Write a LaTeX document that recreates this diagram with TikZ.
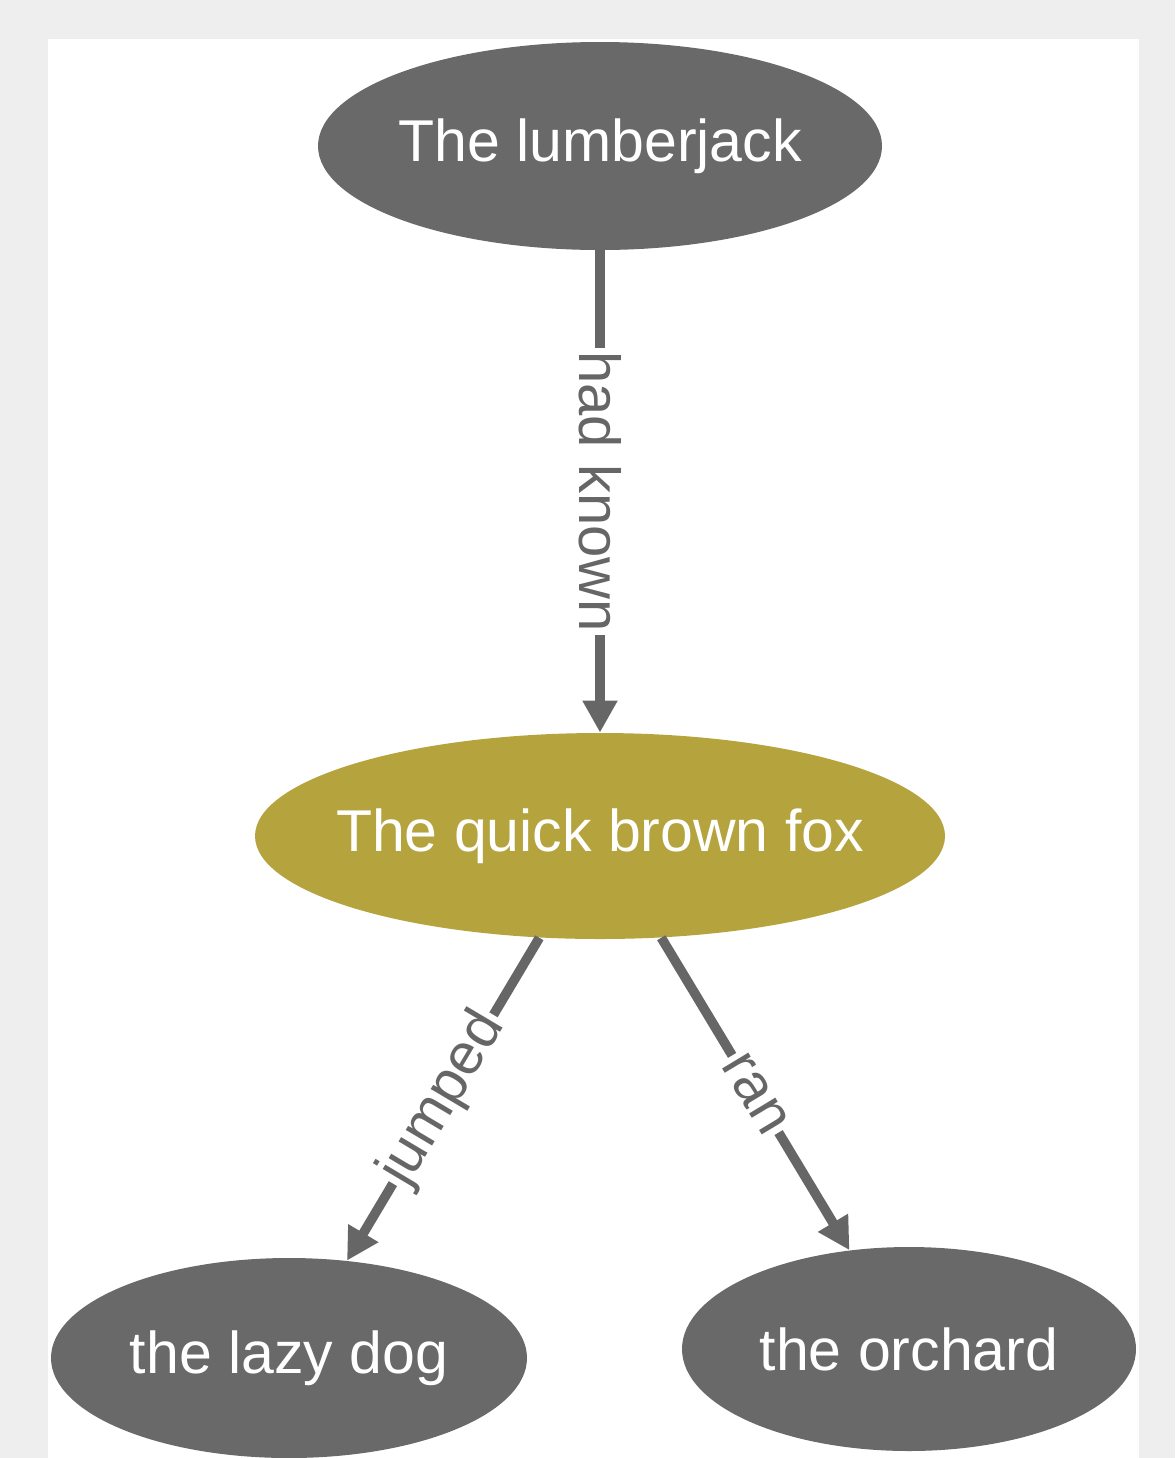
\documentclass[tikz,border=0pt]{standalone}
\usepackage{fontspec}
\setmainfont{Liberation Sans}
\usetikzlibrary{arrows.meta,shapes.geometric}
\definecolor{nodegray}{HTML}{696969}
\definecolor{foxgold}{HTML}{B5A33E}
\definecolor{edgegray}{HTML}{666666}
\definecolor{pagegray}{HTML}{EEEEEE}
% text that does not widen its ellipse
\newcommand{\nodelabel}[1]{\makebox[0pt]{#1}}

\begin{document}
\begin{tikzpicture}[x=0.5pt,y=-0.5pt,
    entity/.style={ellipse, fill=nodegray, text=white, inner sep=0pt,
        font=\fontsize{29.5}{35}\selectfont},
    link/.style={draw=edgegray, line width=4.8pt,
        -{Triangle[length=16pt,width=16.5pt]}},
    rel/.style={midway, sloped, fill=white, text=edgegray, inner sep=1.5pt,
        font=\fontsize{29}{34}\selectfont}]
% Page and panel
\fill[pagegray] (0,0) rectangle (1175,1458);
\useasboundingbox (0,0) rectangle (1175,1458);
\fill[white] (48,39) rectangle (1139,1458);

% Entities
\node[entity, minimum width=282pt, minimum height=104pt] (jack) at (600,146) {\nodelabel{The lumberjack}};
\node[entity, fill=foxgold, minimum width=345pt, minimum height=103pt] (fox) at (600,836) {\nodelabel{The quick brown fox}};
\node[entity, minimum width=238pt, minimum height=100pt] (dog) at (289,1358) {\nodelabel{the lazy dog}};
\node[entity, minimum width=227pt, minimum height=102pt] (orchard) at (909,1349) {\nodelabel{the orchard}};

% Relations
\draw[link] (jack) -- (fox) node[rel] {had known};
\draw[link] (fox) -- (dog) node[rel] {jumped};
\draw[link] (fox) -- (orchard) node[rel] {ran};
\end{tikzpicture}
\end{document}
